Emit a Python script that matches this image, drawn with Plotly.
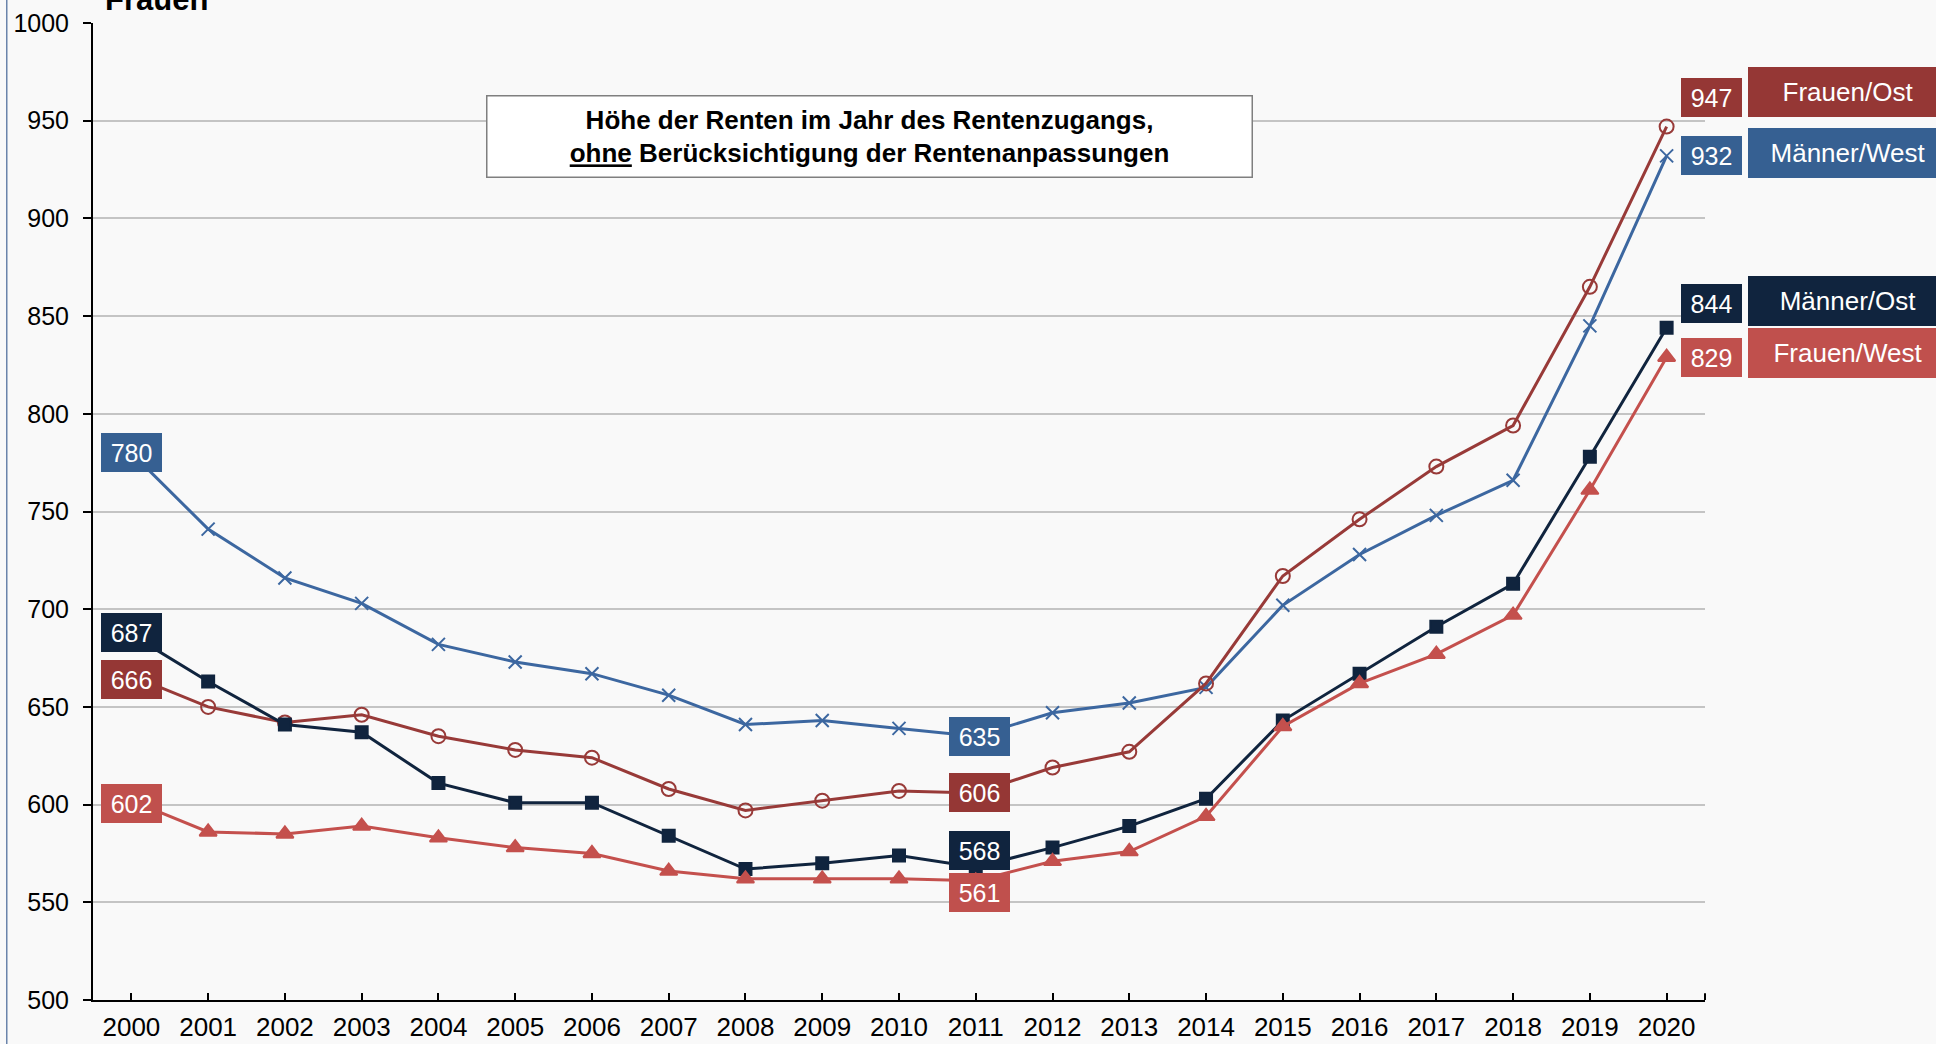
import plotly.graph_objects as go

years = [str(y) for y in range(2000, 2021)]

maenner_west = [780, 741, 716, 703, 682, 673, 667, 656, 641, 643, 639, 635, 647, 652, 660, 702, 728, 748, 766, 845, 932]
frauen_ost = [666, 650, 642, 646, 635, 628, 624, 608, 597, 602, 607, 606, 619, 627, 662, 717, 746, 773, 794, 865, 947]
maenner_ost = [687, 663, 641, 637, 611, 601, 601, 584, 567, 570, 574, 568, 578, 589, 603, 643, 667, 691, 713, 778, 844]
frauen_west = [602, 586, 585, 589, 583, 578, 575, 566, 562, 562, 562, 561, 571, 576, 594, 640, 662, 677, 697, 761, 829]

series_names = ["Männer/West", "Frauen/Ost", "Männer/Ost", "Frauen/West"]
series_values = [maenner_west, frauen_ost, maenner_ost, frauen_west]
line_colors = ["#3c67a0", "#983a38", "#10243e", "#c4504d"]
box_colors = ["#366092", "#953735", "#10243e", "#c0504d"]
symbols = ["x-thin-open", "circle-open", "square", "triangle-up"]
msizes = [13, 14, 12, 15]

y_ticks = list(range(500, 1001, 50))

chart_title = "Frauen"
box_text = ("<b>Höhe der Renten im Jahr des Rentenzugangs,<br>"
            "<span style='text-decoration:underline'>ohne</span> Berücksichtigung der Rentenanpassungen</b>")

# label offsets (pixels) for first, 2011 and last labels
shift_2000 = [0, -4, 2, -3]
shift_2011 = [0, 0, 17, -12]
shift_2020 = [0, 29, 24, 0]
shift_name = [3, 35, 27, 4]

FONT = "Liberation Sans, Arial, sans-serif"

fig = go.Figure()
for name, vals, lc, sym, ms in zip(series_names, series_values, line_colors, symbols, msizes):
    fig.add_trace(go.Scatter(
        x=years, y=vals, name=name, mode="lines+markers",
        line=dict(color=lc, width=3),
        marker=dict(symbol=sym, size=ms, color=lc, line=dict(color=lc, width=2)),
        cliponaxis=False,
    ))

annotations = []
for i, (name, vals) in enumerate(zip(series_names, series_values)):
    bc = box_colors[i]
    for idx, xs, ys in [(0, 0, shift_2000[i]), (11, 4, shift_2011[i]), (20, 45, shift_2020[i])]:
        annotations.append(dict(
            x=idx, y=vals[idx], xref="x", yref="y", text=str(vals[idx]),
            showarrow=False, xshift=xs, yshift=ys, bgcolor=bc, width=61, height=39,
            borderpad=0, borderwidth=0, font=dict(family=FONT, size=25, color="white"),
            align="center", valign="middle",
        ))
    annotations.append(dict(
        x=20, y=vals[20], xref="x", yref="y", text=name,
        showarrow=False, xshift=181, yshift=shift_name[i], bgcolor=bc, width=200, height=50,
        borderpad=0, borderwidth=0, font=dict(family=FONT, size=26, color="white"),
        align="center", valign="middle",
    ))

annotations.append(dict(
    x=0.4814, y=0.8843, xref="paper", yref="paper", text=box_text, showarrow=False,
    xanchor="center", yanchor="middle", bgcolor="white", bordercolor="#7f7f7f", borderwidth=1.5,
    borderpad=0, width=764, height=80, align="center", valign="middle",
    font=dict(family=FONT, size=26, color="black"),
))
annotations.append(dict(
    x=0.0062, y=1.004, xref="paper", yref="paper", text="<b>" + chart_title + "</b>",
    showarrow=False, xanchor="left", yanchor="bottom",
    font=dict(family=FONT, size=31, color="black"),
))

fig.update_layout(
    width=1936, height=1044,
    margin=dict(l=93, r=231, t=23, b=44, pad=0),
    paper_bgcolor="#f9f9f9", plot_bgcolor="#f9f9f9",
    showlegend=False,
    annotations=annotations,
    shapes=[
        dict(type="line", xref="paper", yref="paper", x0=-0.0535, x1=-0.0535, y0=-0.1, y1=1.1,
             line=dict(color="#6a84ab", width=1.5)),
        dict(type="line", xref="paper", yref="y", x0=1, x1=1, y0=500, y1=503.5,
             line=dict(color="black", width=2)),
    ],
    font=dict(family=FONT, color="black"),
)

fig.update_xaxes(
    type="category", range=[-0.5, 20.5], showgrid=False, automargin=False,
    showline=True, linecolor="black", linewidth=2,
    ticks="inside", ticklen=7, tickwidth=2, tickcolor="black",
    tickfont=dict(family=FONT, size=26, color="black"), ticklabelstandoff=3,
)
fig.update_yaxes(
    range=[500, 1000], tickvals=y_ticks, showgrid=True, gridcolor="#c4c4c4", gridwidth=2,
    zeroline=False, showline=True, linecolor="black", linewidth=2, automargin=False,
    ticks="outside", ticklen=8, tickwidth=2, tickcolor="black",
    tickfont=dict(family=FONT, size=25, color="black"), ticklabelstandoff=9,
)

fig.write_html(
    "out.html",
    config={"displayModeBar": False},
    post_script="document.body.style.margin='0';document.body.style.overflow='hidden';",
)
